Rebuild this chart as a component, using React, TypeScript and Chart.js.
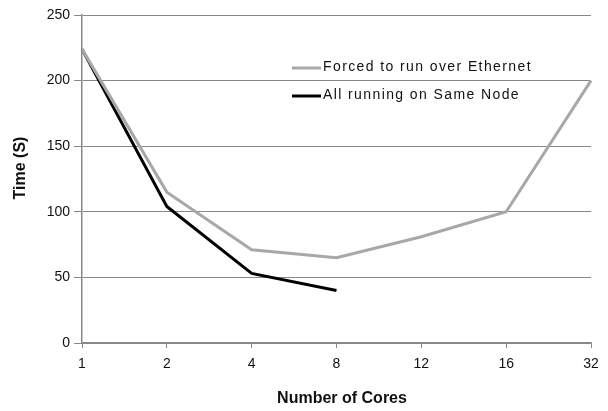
import React, { useEffect, useRef } from "react";
import { Chart, registerables } from "chart.js";

Chart.register(...registerables);

const categories = ["1", "2", "4", "8", "12", "16", "32"];
const ethernetValues = [224, 115, 71, 65, 81, 100, 200];
const sameNodeValues = [224, 104, 53, 40, null, null, null];
const seriesLabels = ["Forced to run over Ethernet", "All running on Same Node"];
const yTicks = [0, 50, 100, 150, 200, 250];
const xTitle = "Number of Cores";
const yTitle = "Time (S)";

const FONT = "'Liberation Sans', Arial, Helvetica, sans-serif";

const overlayPlugin = {
  id: "overlay",
  afterDraw(chart: any) {
    const ctx = chart.ctx;
    ctx.save();
    // axis titles
    ctx.fillStyle = "#111";
    ctx.font = `bold 16px ${FONT}`;
    ctx.textAlign = "center";
    ctx.textBaseline = "middle";
    ctx.fillText(xTitle, 342, 399);
    ctx.save();
    ctx.translate(21, 168);
    ctx.rotate(-Math.PI / 2);
    ctx.fillText(yTitle, 0, 0);
    ctx.restore();
    // legend
    const items = chart.data.datasets;
    const x0 = 292;
    const ys = [67, 95];
    ctx.font = `14px ${FONT}`;
    ctx.textAlign = "left";
    try {
      (ctx as any).letterSpacing = "1.4px";
    } catch (e) {}
    items.forEach((ds: any, i: number) => {
      ctx.strokeStyle = ds.borderColor;
      ctx.lineWidth = 3;
      ctx.beginPath();
      ctx.moveTo(x0, ys[i] + 1);
      ctx.lineTo(x0 + 29, ys[i] + 1);
      ctx.stroke();
      ctx.fillStyle = "#111";
      ctx.fillText(ds.label, x0 + 31, ys[i]);
    });
    ctx.restore();
  },
};

export default function App() {
  const ref = useRef<HTMLCanvasElement>(null);
  useEffect(() => {
    if (!ref.current) return;
    const chart = new Chart(ref.current, {
      type: "line",
      data: {
        labels: categories,
        datasets: [
          {
            label: seriesLabels[0],
            data: ethernetValues,
            borderColor: "#a8a8a8",
            borderWidth: 3,
            pointRadius: 0,
            tension: 0,
            fill: false,
          },
          {
            label: seriesLabels[1],
            data: sameNodeValues,
            borderColor: "#000000",
            borderWidth: 3,
            pointRadius: 0,
            tension: 0,
            fill: false,
          },
        ],
      },
      options: {
        animation: false,
        responsive: true,
        maintainAspectRatio: false,
        layout: { padding: { left: 0, right: 17, top: 15, bottom: 0 } },
        plugins: { legend: { display: false }, tooltip: { enabled: false } },
        scales: {
          x: {
            offset: false,
            grid: {
              display: true,
              drawOnChartArea: false,
              drawTicks: true,
              tickLength: 5,
              color: "#888",
            },
            border: { display: true, color: "#888", width: 1.5 },
            ticks: {
              color: "#111",
              font: { family: FONT, size: 14 },
              padding: 8,
              maxRotation: 0,
            },
            afterFit(scale: any) {
              scale.height = 68;
            },
          },
          y: {
            min: 0,
            max: 250,
            afterBuildTicks(scale: any) {
              scale.ticks = yTicks.map((v) => ({ value: v }));
            },
            grid: {
              color: "#888",
              lineWidth: 1,
              tickLength: 8,
            },
            border: { display: true, color: "#888", width: 1.5 },
            ticks: {
              color: "#111",
              font: { family: FONT, size: 14 },
              padding: 4,
            },
            afterFit(scale: any) {
              scale.width = 82;
            },
          },
        },
      },
      plugins: [overlayPlugin],
    });
    return () => chart.destroy();
  }, []);
  return (
    <div style={{ position: "fixed", left: 0, top: 0, width: 608, height: 411, background: "#fff" }}>
      <canvas ref={ref} />
    </div>
  );
}
